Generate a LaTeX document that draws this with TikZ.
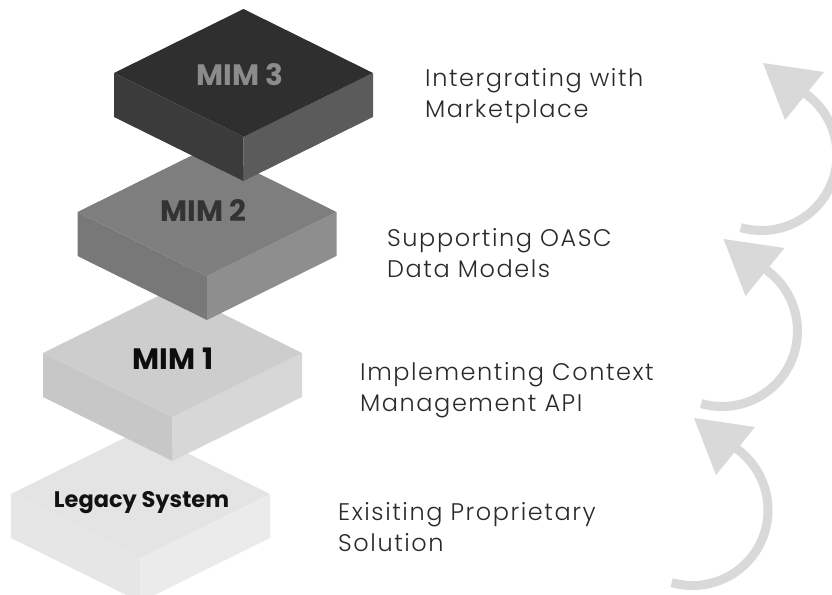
\documentclass[tikz,border=0pt]{standalone}
\usepackage{fontspec}
\setmainfont{Poppins}
\newfontfamily\descfont[LetterSpace=6.5]{Poppins Light}
\definecolor{arrowgray}{HTML}{D9D9D9}
\definecolor{descgray}{HTML}{2A2A2A}
\definecolor{lgtop}{HTML}{E4E4E4}\definecolor{lgleft}{HTML}{E6E6E6}\definecolor{lgright}{HTML}{EBEBEB}
\definecolor{m1top}{HTML}{CDCDCD}\definecolor{m1left}{HTML}{C7C7C7}\definecolor{m1right}{HTML}{D7D7D7}
\definecolor{m2top}{HTML}{7E7E7E}\definecolor{m2left}{HTML}{787878}\definecolor{m2right}{HTML}{8E8E8E}
\definecolor{m3top}{HTML}{2F2F2F}\definecolor{m3left}{HTML}{3B3B3B}\definecolor{m3right}{HTML}{5B5B5B}
\newcommand\isoblock[6]{% name, cx, cy, top, left, right
  \coordinate (#1) at (#2,#3);
  \fill[#5] ([shift={(-129.5,0)}]#1) -- ([shift={(0,64)}]#1) -- ([shift={(0,108)}]#1) -- ([shift={(-129.5,44)}]#1) -- cycle;
  \fill[#6] ([shift={(0,64)}]#1) -- ([shift={(129.5,0)}]#1) -- ([shift={(129.5,44)}]#1) -- ([shift={(0,108)}]#1) -- cycle;
  \fill[#4] ([shift={(-129.5,0)}]#1) -- ([shift={(0,-64)}]#1) -- ([shift={(129.5,0)}]#1) -- ([shift={(0,64)}]#1) -- cycle;
}
\newcommand\curvarrow[3]{% name, dx, dy
  \begin{scope}[shift={(#2,#3)}]
    \coordinate (#1) at (692.5,510);
    \draw[arcline] (#1) ++(-106:75.5pt) arc[start angle=-106,end angle=54,radius=75.5pt];
    \fill[arrowgray] (694,418) -- (755,427) -- (716,475) -- cycle;
  \end{scope}
}
\begin{document}
\begin{tikzpicture}[x=1pt,y=-1pt,
  arcline/.style={draw=arrowgray,line width=9pt,line cap=butt},
  desc/.style={font=\descfont\fontsize{24}{31}\selectfont,text=descgray,inner sep=0pt,anchor=base west},
  blabel/.style={font=\bfseries\fontsize{29.5}{32}\selectfont,inner sep=0pt,anchor=base}]
\useasboundingbox (0,0) rectangle (832,594);
\clip (0,0) rectangle (832,594);
\fill[white] (0,0) rectangle (832,594);
% blocks
\isoblock{b0}{140.5}{494}{lgtop}{lgleft}{lgright}
\isoblock{b1}{172.5}{353}{m1top}{m1left}{m1right}
\isoblock{b2}{207}{212}{m2top}{m2left}{m2right}
\isoblock{b3}{243.5}{73}{m3top}{m3left}{m3right}
% block labels
\node[blabel,font=\bfseries\fontsize{22.5}{26}\selectfont,text=black!93] (l0) at (141.5,507) {Legacy System};
\node[blabel,text=black!95] (l1) at (173,369) {MIM 1};
\node[blabel,text=black!80] (l2) at (203.5,221) {MIM 2};
\node[blabel,text=black!45] (l3) at (240,85) {MIM 3};
% descriptions
\node[desc] (d0) at (338,520) {\begin{tabular}[t]{@{}l@{}}Exisiting Proprietary\\Solution\end{tabular}};
\node[desc] (d1) at (360,380) {\begin{tabular}[t]{@{}l@{}}Implementing Context\\Management API\end{tabular}};
\node[desc] (d2) at (387,246) {\begin{tabular}[t]{@{}l@{}}Supporting OASC\\Data Models\end{tabular}};
\node[desc] (d3) at (425,86) {\begin{tabular}[t]{@{}l@{}}Intergrating with\\Marketplace\end{tabular}};
% arrows
\curvarrow{a0}{0}{0}
\curvarrow{a1}{29.5}{-179}
\curvarrow{a2}{69}{-355}
\end{tikzpicture}
\end{document}
